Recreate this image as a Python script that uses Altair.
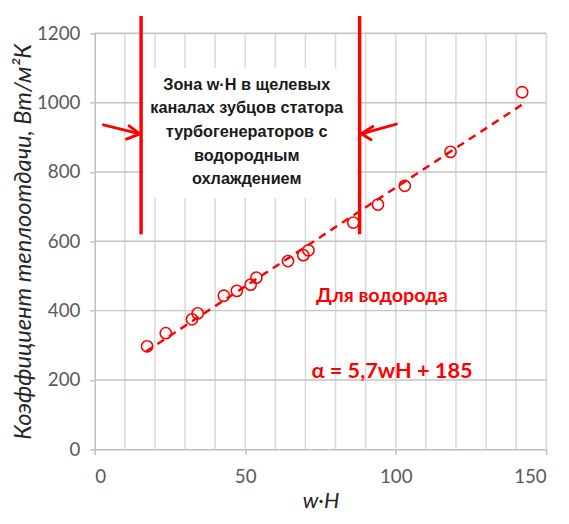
import altair as alt
import pandas as pd

# data
wH = [17.4, 23.6, 32.3, 34.2, 42.9, 47.2, 51.8, 53.7, 64.2, 69.3, 71.0, 85.9, 94.1, 103.0, 118.2, 142.0]
alpha = [297, 335, 375, 392, 443, 457, 475, 495, 543, 560, 574, 654, 706, 760, 858, 1030]
fit_x = [17.0, 142.0]
fit_y = [5.7 * 17.0 + 185, 5.7 * 142.0 + 185]
zone_x = [15.4, 88.0]
zone_y = [620, 1250]
box = dict(x=16.2, x2=87.2, y=725, y2=1100)
zone_text = ["Зона w·H в щелевых", "каналах зубцов статора", "турбогенераторов с", "водородным", "охлаждением"]
zone_text_y = [1050, 984, 915, 847, 780]
arrows = [
    (2.9, 936, 15.0, 910), (11.4, 933, 15.0, 910), (10.5, 895, 15.0, 910),
    (100.2, 938, 88.6, 910), (92.4, 931, 88.6, 910), (91.8, 893, 88.6, 910),
]
x_grid = list(range(10, 151, 10))
y_grid = list(range(200, 1201, 200))
x_ticks = [0, 50, 100, 150]
y_ticks = list(range(0, 1201, 200))
label1 = "Для водорода"
label2 = "α = 5,7wH + 185"

RED = "#ff0000"
FONT = "Lato"
xs = alt.Scale(domain=[0, 150], nice=False, zero=True)
ys = alt.Scale(domain=[0, 1200], nice=False)

vgrid = alt.Chart(pd.DataFrame({"x": x_grid})).mark_rule(color="#d9d9d9", strokeWidth=1.5).encode(
    x=alt.X("x:Q", scale=xs, axis=alt.Axis(values=x_ticks, grid=False, title="w·H", format="d",
                                          titleFontStyle="italic", titleFontWeight="normal", titleFontSize=22,
                                          titleColor="#262626", titleFont=FONT, titlePadding=4,
                                          labelFontSize=19, labelColor="#595959", labelFont=FONT,
                                          labelPadding=14, tickSize=5, tickColor="#bfbfbf", tickWidth=1.5,
                                          domainColor="#bfbfbf", domainWidth=1.5)))

hgrid = alt.Chart(pd.DataFrame({"y": y_grid})).mark_rule(color="#c4c4c4", strokeWidth=1.5).encode(
    y=alt.Y("y:Q", scale=ys, axis=alt.Axis(values=y_ticks, grid=False, format="d",
                                          title="Коэффициент теплоотдачи, Вт/м²К",
                                          titleFontStyle="italic", titleFontWeight="normal", titleFontSize=24,
                                          titleColor="#262626", titleFont=FONT, titlePadding=1,
                                          labelFontSize=19, labelColor="#595959", labelFont=FONT,
                                          labelPadding=10, tickSize=5, tickColor="#bfbfbf", tickWidth=1.5,
                                          domainColor="#bfbfbf", domainWidth=1.5)))

box_layer = alt.Chart(pd.DataFrame([box])).mark_rect(color="white").encode(
    x=alt.X("x:Q", scale=xs), x2="x2:Q", y=alt.Y("y:Q", scale=ys), y2="y2:Q")

fit = alt.Chart(pd.DataFrame({"x": fit_x, "y": fit_y})).mark_line(
    color=RED, strokeWidth=2.5, strokeDash=[8, 6]).encode(x=alt.X("x:Q", scale=xs), y=alt.Y("y:Q", scale=ys))

points = alt.Chart(pd.DataFrame({"x": wH, "y": alpha})).mark_point(
    shape="circle", filled=False, color=RED, size=130, strokeWidth=1.6, opacity=1).encode(
    x=alt.X("x:Q", scale=xs), y=alt.Y("y:Q", scale=ys))

zone = alt.Chart(pd.DataFrame({"x": zone_x, "y": [zone_y[0]] * 2, "y2": [zone_y[1]] * 2})).mark_rule(
    color=RED, strokeWidth=3.5).encode(x=alt.X("x:Q", scale=xs), y=alt.Y("y:Q", scale=ys), y2="y2:Q")

arr = alt.Chart(pd.DataFrame(arrows, columns=["x", "y", "x2", "y2"])).mark_rule(
    color=RED, strokeWidth=3, strokeCap="round").encode(
    x=alt.X("x:Q", scale=xs), y=alt.Y("y:Q", scale=ys), x2="x2:Q", y2="y2:Q")

ztext = alt.Chart(pd.DataFrame({"t": zone_text, "y": zone_text_y, "x": [50.5] * 5})).mark_text(
    font="Liberation Sans", fontWeight="bold", fontSize=16.5, color="#1a1a1a", align="center", baseline="middle").encode(
    x=alt.X("x:Q", scale=xs), y=alt.Y("y:Q", scale=ys), text="t:N")

t1 = alt.Chart(pd.DataFrame({"t": [label1], "x": [73.5], "y": [441]})).mark_text(
    font=FONT, fontWeight="bold", fontSize=20, color=RED, align="left", baseline="middle").encode(
    x=alt.X("x:Q", scale=xs), y=alt.Y("y:Q", scale=ys), text="t:N")

t2 = alt.Chart(pd.DataFrame({"t": [label2], "x": [72.0], "y": [227]})).mark_text(
    font=FONT, fontWeight="bold", fontSize=22, color=RED, align="left", baseline="middle").encode(
    x=alt.X("x:Q", scale=xs), y=alt.Y("y:Q", scale=ys), text="t:N")

chart = alt.layer(vgrid, hgrid, box_layer, fit, points, zone, arr, ztext, t1, t2).properties(
    width=458, height=422, autosize=alt.AutoSizeParams(type="none"),
    padding={"left": 88, "top": 22, "right": 15, "bottom": 64},
).configure_view(stroke=None).configure(background="white")

chart.save("out.html", embed_options={"renderer": "svg", "actions": False})
